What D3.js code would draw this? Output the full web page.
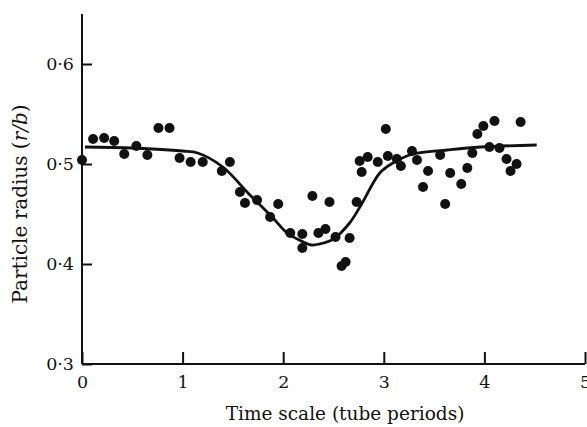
<!DOCTYPE html>
<html>
<head>
<meta charset="utf-8">
<script src="https://cdn.jsdelivr.net/npm/d3@7"></script>
<style>
  body { margin: 0; background: #fff; }
  svg { display: block; }
  .tick text { font-family: 'DejaVu Serif', serif; font-size: 17.5px; fill: #111; }
  .domain, .tick line { stroke: #111; stroke-width: 2; }
  .title { font-family: 'DejaVu Serif', serif; fill: #111; }
</style>
</head>
<body>
<svg></svg>
<script>
// measured points (time in tube periods, particle radius r/b)
let timeValues = [0.0, 0.11, 0.22, 0.32, 0.42, 0.54, 0.65, 0.76, 0.87, 0.97,
                  1.08, 1.2, 1.39, 1.47, 1.57, 1.62, 1.74, 1.87, 1.95, 2.07,
                  2.19, 2.19, 2.29, 2.35, 2.42, 2.46, 2.52, 2.58, 2.62, 2.66,
                  2.73, 2.76, 2.84, 2.78, 2.94, 3.02, 3.04, 3.13, 3.17, 3.28,
                  3.33, 3.39, 3.44, 3.56, 3.61, 3.66, 3.77, 3.83, 3.88, 3.93,
                  3.99, 4.1, 4.05, 4.15, 4.22, 4.26, 4.32, 4.36]
let radiusValues = [0.504, 0.525, 0.526, 0.523, 0.510, 0.518, 0.509, 0.536, 0.536, 0.506,
                    0.502, 0.502, 0.493, 0.502, 0.472, 0.461, 0.464, 0.447, 0.460, 0.431,
                    0.430, 0.416, 0.468, 0.431, 0.435, 0.462, 0.427, 0.398, 0.402, 0.426,
                    0.462, 0.503, 0.507, 0.492, 0.502, 0.535, 0.508, 0.505, 0.498, 0.513,
                    0.504, 0.477, 0.493, 0.509, 0.460, 0.491, 0.480, 0.496, 0.511, 0.530,
                    0.538, 0.543, 0.517, 0.516, 0.505, 0.493, 0.500, 0.542]

// fitted curve
let curveTimes = [0.03, 0.5, 1.0, 1.15, 1.4, 1.65, 1.89, 2.04, 2.2, 2.28,
                  2.4, 2.5, 2.66, 2.78, 2.96, 3.09, 3.29, 3.63, 3.96, 4.52]
let curveRadii = [0.517, 0.516, 0.513, 0.511, 0.497, 0.471, 0.447, 0.431, 0.422, 0.419,
                  0.421, 0.425, 0.441, 0.460, 0.491, 0.501, 0.510, 0.514, 0.517, 0.519]

let xTickValues = [0, 1, 2, 3, 4, 5]
let yTickValues = [0.3, 0.4, 0.5, 0.6]

let width = 587
let height = 427

let svg = d3.select('svg')
    .attr('width', width)
    .attr('height', height)

let xScale = d3.scaleLinear().domain([0, 5]).range([82, 585])
let yScale = d3.scaleLinear().domain([0.3, 0.65]).range([364, 14])

let fmt = (d) => d3.format('.1f')(d).replace('.', '·')

// axes with ticks pointing into the plot
let xAxis = d3.axisBottom(xScale)
    .tickValues(xTickValues)
    .tickSize(-12)
    .tickPadding(12)
    .tickFormat(d3.format('d'))

svg.append('g')
    .attr('transform', `translate(0, ${yScale(0.3)})`)
    .call(xAxis)
    .call(g => g.select('.domain').attr('d', `M${xScale(0)},0H${xScale(5)}`))

let yAxis = d3.axisLeft(yScale)
    .tickValues(yTickValues)
    .tickSize(-10)
    .tickPadding(8)
    .tickFormat(fmt)

svg.append('g')
    .attr('transform', `translate(${xScale(0)}, 0)`)
    .call(yAxis)
    .call(g => g.select('.domain').attr('d', `M0,${yScale(0.3)}V${yScale(0.65)}`))

// fitted line
let line = d3.line()
    .x((d, i) => xScale(curveTimes[i]))
    .y((d, i) => yScale(curveRadii[i]))
    .curve(d3.curveCatmullRom.alpha(0.5))

svg.append('path')
    .datum(curveTimes)
    .attr('d', line)
    .attr('fill', 'none')
    .attr('stroke', '#111')
    .attr('stroke-width', 2.8)

// data dots
svg.selectAll('circle')
    .data(timeValues)
    .enter()
    .append('circle')
    .attr('cx', (d) => xScale(d))
    .attr('cy', (d, i) => yScale(radiusValues[i]))
    .attr('r', 5)
    .attr('fill', '#111')

// axis titles
svg.append('text')
    .attr('class', 'title')
    .attr('x', 345)
    .attr('y', 420)
    .attr('font-size', 18.5)
    .attr('text-anchor', 'middle')
    .text('Time scale (tube periods)')

let yTitle = svg.append('text')
    .attr('class', 'title')
    .attr('font-size', 20)
    .attr('transform', 'translate(27, 204) rotate(-90)')
    .attr('text-anchor', 'middle')
yTitle.append('tspan').text('Particle radius (')
yTitle.append('tspan').attr('font-style', 'italic').text('r/b')
yTitle.append('tspan').text(')')
</script>
</body>
</html>
